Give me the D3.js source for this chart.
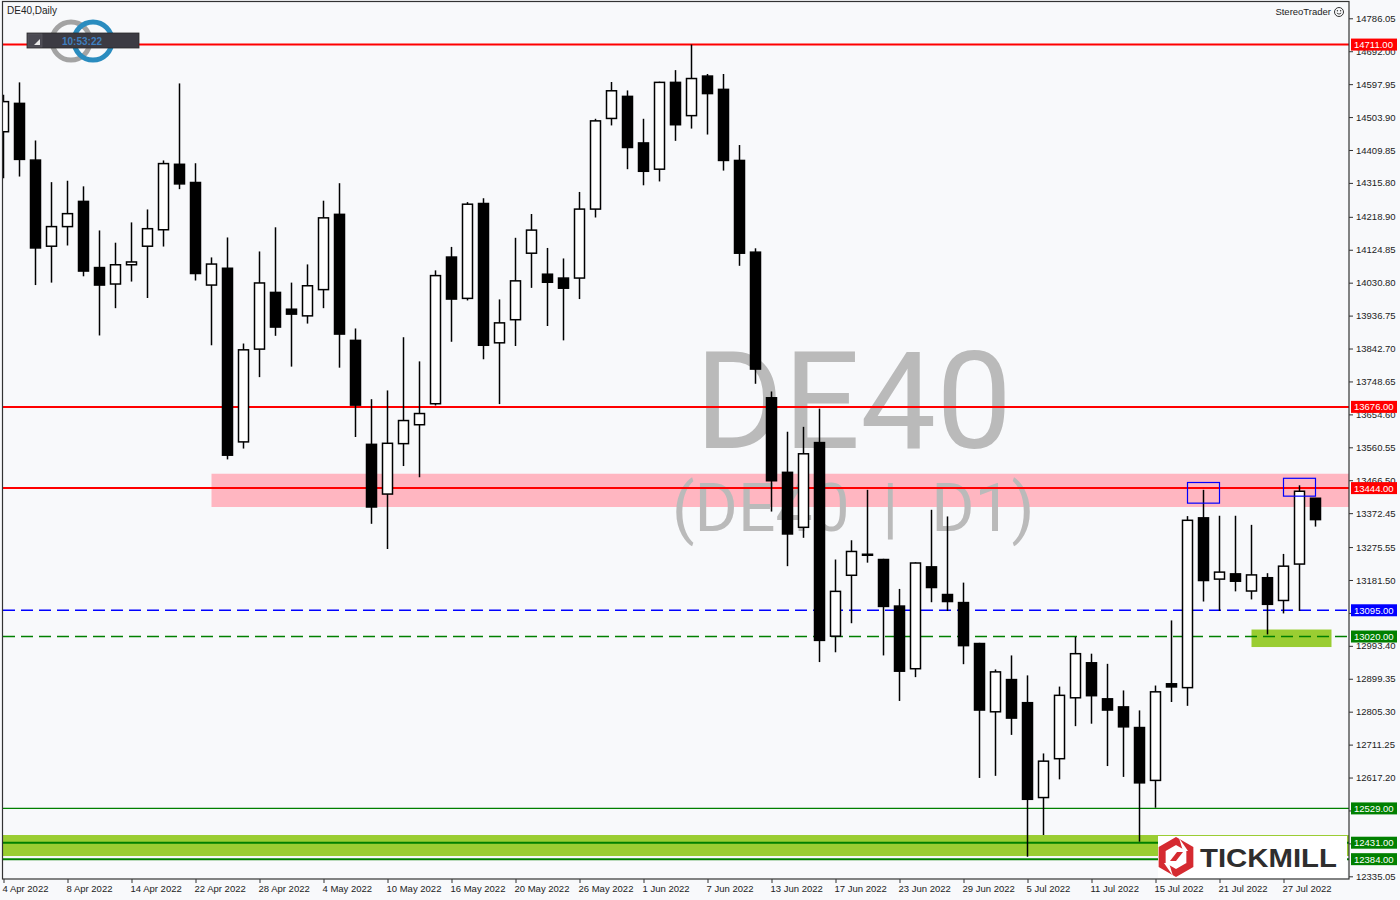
<!DOCTYPE html>
<html><head><meta charset="utf-8">
<script src="https://cdn.jsdelivr.net/npm/d3@7"></script>
<style>
html,body{margin:0;padding:0;background:#f8f9fb;}
svg{display:block;}
</style></head>
<body>
<svg id="chart" width="1400" height="900"></svg>
<script>
// ---------------- DATA ----------------
const dates = [
"2022-04-04","2022-04-05","2022-04-06","2022-04-07","2022-04-08","2022-04-11","2022-04-12","2022-04-13","2022-04-14",
"2022-04-19","2022-04-20","2022-04-21","2022-04-22","2022-04-25","2022-04-26","2022-04-27","2022-04-28","2022-04-29",
"2022-05-02","2022-05-03","2022-05-04","2022-05-05","2022-05-06","2022-05-09","2022-05-10","2022-05-11","2022-05-12",
"2022-05-13","2022-05-16","2022-05-17","2022-05-18","2022-05-19","2022-05-20","2022-05-23","2022-05-24","2022-05-25",
"2022-05-26","2022-05-27","2022-05-30","2022-05-31","2022-06-01","2022-06-02","2022-06-03","2022-06-06","2022-06-07",
"2022-06-08","2022-06-09","2022-06-10","2022-06-13","2022-06-14","2022-06-15","2022-06-16","2022-06-17","2022-06-20",
"2022-06-21","2022-06-22","2022-06-23","2022-06-24","2022-06-27","2022-06-28","2022-06-29","2022-06-30","2022-07-01",
"2022-07-04","2022-07-05","2022-07-06","2022-07-07","2022-07-08","2022-07-11","2022-07-12","2022-07-13","2022-07-14",
"2022-07-15","2022-07-18","2022-07-19","2022-07-20","2022-07-21","2022-07-22","2022-07-25","2022-07-26","2022-07-27",
"2022-07-28","2022-07-29"];

const opens = [14462,14543,14381,14135,14191,14263,14074,14027,14082,14135,14182,14369,14317,14024,14072,13576,13841,14003,
13955,13936,14011,14226,13866,13569,13427,13571,13625,13685,14104,13986,14257,13859,13925,14115,14055,14044,
14044,14241,14500,14563,14430,14355,14603,14508,14621,14583,14380,14118,13702,13489,13332,13574,13021,13195,
13255,13240,13107,12928,13219,13140,13117,13000,12805,12897,12831,12560,12671,12845,12945,12842,12819,12760,
12609,12885,12874,13359,13184,13199,13150,13188,13123,13227,13415];

const highs = [14568,14603,14437,14318,14322,14306,14180,14145,14203,14240,14380,14600,14372,14103,14160,13857,14120,14189,
14031,14083,14265,14315,13900,13698,13723,13875,13806,14066,14133,14261,14272,13983,14159,14227,14130,14100,
14290,14499,14604,14580,14499,14605,14638,14711,14627,14627,14424,14129,13720,13605,13619,13671,13240,13295,
13439,13242,13156,13232,13382,13363,13174,13002,12926,12966,12909,12686,12877,13019,12971,12942,12866,12809,
12880,13066,13364,13439,13365,13365,13339,13201,13256,13452,13416];

const lows = [14329,14334,14024,14031,14137,14049,13880,13958,14034,13987,14134,14298,14037,13852,13526,13557,13761,13879,
13791,13914,13958,13788,13590,13342,13270,13507,13475,13680,13862,13980,13812,13684,13850,14016,13907,13866,
13984,14217,14480,14355,14309,14320,14436,14471,14454,14351,14079,13742,13377,13221,13302,12947,12975,13058,
13231,12966,12836,12904,13118,13093,12941,12616,12622,12739,12391,12453,12612,12764,12771,12650,12619,12434,
12531,12833,12822,13120,13093,13149,13126,13026,13086,13093,13334];

const closes = [14548,14383,14130,14191,14228,14064,14024,14082,14090,14185,14371,14313,14057,14084,13538,13839,14030,13904,
13941,14022,14216,13884,13681,13390,13572,13637,13657,14051,13984,14255,13852,13916,14036,14181,14032,14015,
14241,14493,14579,14417,14349,14603,14482,14614,14571,14380,14115,13784,13465,13313,13542,13009,13149,13263,
13253,13106,12921,13230,13160,13120,12994,12810,12919,12787,12555,12664,12852,12971,12851,12810,12762,12602,
12862,12876,13352,13180,13204,13178,13196,13112,13221,13435,13354];

const yTickValues = [14786.05,14692.00,14597.95,14503.90,14409.85,14315.80,14218.90,14124.85,14030.80,13936.75,13842.70,
13748.65,13654.60,13560.55,13466.50,13372.45,13275.55,13181.50,13087.45,12993.40,12899.35,12805.30,12711.25,
12617.20,12523.15,12429.10,12335.05];

const xTickDates = ["2022-04-04","2022-04-08","2022-04-14","2022-04-22","2022-04-28","2022-05-04","2022-05-10","2022-05-16",
"2022-05-20","2022-05-26","2022-06-01","2022-06-07","2022-06-13","2022-06-17","2022-06-23","2022-06-29","2022-07-05",
"2022-07-11","2022-07-15","2022-07-21","2022-07-27"];
const xTickLabels = ["4 Apr 2022","8 Apr 2022","14 Apr 2022","22 Apr 2022","28 Apr 2022","4 May 2022","10 May 2022",
"16 May 2022","20 May 2022","26 May 2022","1 Jun 2022","7 Jun 2022","13 Jun 2022","17 Jun 2022","23 Jun 2022",
"29 Jun 2022","5 Jul 2022","11 Jul 2022","15 Jul 2022","21 Jul 2022","27 Jul 2022"];

// horizontal levels
const levelPrices = [14711, 13676, 13444, 13095, 13020, 12529, 12431, 12384];
const levelLabels = ["14711.00","13676.00","13444.00","13095.00","13020.00","12529.00","12431.00","12384.00"];
const levelKinds  = ["red","red","red","blueDash","greenDash","green1","green2","green2"];

// zones: [startDate, endDate(or null = edge), priceTop, priceBottom]
const pinkZone = ["2022-04-25", null, 13485, 13390];
const greenZoneSmall = ["2022-07-25", "2022-07-29", 13040, 12990];
const greenZoneBottom = [null, null, 12453, 12393];
const markBoxes = [["2022-07-19","2022-07-21",13460,13401],["2022-07-27","2022-07-29",13472,13421]];

// ---------------- CHART ----------------
const svg = d3.select("#chart");
const L = 3, R = 1349, T = 2, B = 879;
const bg = "#f8f9fb";
svg.append("rect").attr("width",1400).attr("height",900).attr("fill",bg);

const x = d3.scaleBand().domain(dates).range([-4.5, -4.5 + dates.length*16]).padding(0);
const xc = d => x(d) + x.bandwidth()/2;
const y = d3.scaleLinear().domain([12327.35, 14832.6]).range([B, T]);

svg.append("defs").append("clipPath").attr("id","plotclip")
  .append("rect").attr("x",L).attr("y",T).attr("width",R-L).attr("height",B-T);
const g = svg.append("g").attr("clip-path","url(#plotclip)");

// zones
g.append("rect").attr("x", xc(pinkZone[0])).attr("width", R - xc(pinkZone[0]))
  .attr("y", y(pinkZone[2])).attr("height", y(pinkZone[3]) - y(pinkZone[2])).attr("fill","#ffb6c1");
g.append("rect").attr("x", L).attr("width", R-L)
  .attr("y", y(greenZoneBottom[2])).attr("height", y(greenZoneBottom[3]) - y(greenZoneBottom[2])).attr("fill","#9acd32");
g.append("rect").attr("x", xc(greenZoneSmall[0])).attr("width", xc(greenZoneSmall[1]) + 16 - xc(greenZoneSmall[0]))
  .attr("y", y(greenZoneSmall[2])).attr("height", y(greenZoneSmall[3]) - y(greenZoneSmall[2])).attr("fill","#9acd32");

// watermark
g.append("text").attr("x",695).attr("y",448).text("DE40")
  .attr("font-family","Roboto, 'Liberation Sans', sans-serif").attr("font-size",135).attr("fill","#bababa");
g.append("text").attr("x",672).attr("y",531).text("(DE40  |  D1)").style("white-space","pre")
  .attr("font-family","Roboto, 'Liberation Sans', sans-serif").attr("font-size",66).attr("fill","#bababa");

// level lines
const lvlStyle = {
  red:{c:"#ff0000",w:2,d:null}, blueDash:{c:"#0000ff",w:1.5,d:"12,6"}, greenDash:{c:"#008000",w:1.5,d:"12,6"},
  green1:{c:"#008000",w:1.2,d:null}, green2:{c:"#008000",w:2,d:null}
};
levelPrices.forEach((p,i)=>{
  const s = lvlStyle[levelKinds[i]];
  g.append("line").attr("x1",L).attr("x2",R).attr("y1",y(p)).attr("y2",y(p))
    .attr("stroke",s.c).attr("stroke-width",s.w).attr("stroke-dasharray",s.d);
});

// candles
const cg = g.append("g");
dates.forEach((d,i)=>{
  const cx = xc(d), o=opens[i], c=closes[i], h=highs[i], l=lows[i];
  const up = c >= o;
  cg.append("line").attr("x1",cx).attr("x2",cx).attr("y1",y(h)).attr("y2",y(l))
    .attr("stroke","#000").attr("stroke-width",1.5);
  const top = y(Math.max(o,c)), bot = y(Math.min(o,c));
  cg.append("rect").attr("x",cx-5).attr("width",10).attr("y",top).attr("height",Math.max(1,bot-top))
    .attr("fill", up ? "#ffffff" : "#000000").attr("stroke","#000").attr("stroke-width",1.5);
});

// mark boxes
markBoxes.forEach(b=>{
  g.append("rect").attr("x",xc(b[0])).attr("width",xc(b[1])-xc(b[0]))
    .attr("y",y(b[2])).attr("height",y(b[3])-y(b[2])).attr("fill","none").attr("stroke","#0000ff").attr("stroke-width",1.2);
});

// frame
svg.append("rect").attr("x",2.5).attr("y",1.5).attr("width",R-2.5).attr("height",B-1.5)
  .attr("fill","none").attr("stroke","#333").attr("stroke-width",1.2);

// y axis
const fontAx = "'Liberation Sans', Arial, sans-serif";
const yAxis = svg.append("g").attr("transform",`translate(${R},0)`)
  .call(d3.axisRight(y).tickValues(yTickValues).tickFormat(d3.format(".2f")).tickSize(4).tickPadding(3));
yAxis.select(".domain").remove();
yAxis.selectAll("line").attr("stroke","#333");
yAxis.selectAll("text").attr("font-family",fontAx).attr("font-size",9.5).attr("fill","#222");

// x axis
const xa = svg.append("g").attr("transform",`translate(0,${B})`);
const xScaleCenters = d3.scalePoint().domain(dates).range([xc(dates[0]), xc(dates[dates.length-1])]);
xa.call(d3.axisBottom(xScaleCenters).tickValues(xTickDates)
  .tickFormat((d,i)=>xTickLabels[i]).tickSize(4).tickPadding(2));
xa.select(".domain").remove();
xa.selectAll("line").attr("stroke","#333");
xa.selectAll("text").attr("text-anchor","start").attr("dx",-1.5)
  .attr("font-family",fontAx).attr("font-size",9.5).attr("fill","#222");

// price labels on the axis
const lblColor = {red:"#ff0000",blueDash:"#0000ff",greenDash:"#008000",green1:"#008000",green2:"#008000"};
levelPrices.forEach((p,i)=>{
  const yy = y(p);
  svg.append("rect").attr("x",1351).attr("y",yy-6).attr("width",46).attr("height",12).attr("fill",lblColor[levelKinds[i]]);
  svg.append("text").attr("x",1354).attr("y",yy+3.5).text(levelLabels[i])
    .attr("font-family",fontAx).attr("font-size",9.5).attr("fill","#fff");
});

// title
svg.append("text").attr("x",7).attr("y",14).text("DE40,Daily")
  .attr("font-family",fontAx).attr("font-size",10).attr("fill","#222");

// StereoTrader
svg.append("text").attr("x",1331).attr("y",15).attr("text-anchor","end").text("StereoTrader")
  .attr("font-family",fontAx).attr("font-size",9.5).attr("fill","#222");
const sm = svg.append("g").attr("transform","translate(1339,12)");
sm.append("circle").attr("r",4.5).attr("fill","none").attr("stroke","#333").attr("stroke-width",1);
sm.append("circle").attr("cx",-1.6).attr("cy",-1.2).attr("r",0.7).attr("fill","#333");
sm.append("circle").attr("cx",1.6).attr("cy",-1.2).attr("r",0.7).attr("fill","#333");
sm.append("path").attr("d","M-2.2,1 Q0,3.4 2.2,1").attr("fill","none").attr("stroke","#333").attr("stroke-width",0.9);

// clock widget with ring logo
const lg = svg.append("g");
lg.append("circle").attr("cx",71).attr("cy",41).attr("r",19).attr("fill","none").attr("stroke","#a3a3a3").attr("stroke-width",5);
lg.append("circle").attr("cx",93).attr("cy",41).attr("r",19).attr("fill","none").attr("stroke","#2a8cbf").attr("stroke-width",5);
lg.append("rect").attr("x",27).attr("y",33).attr("width",112).attr("height",15).attr("fill","#3c3b43").attr("stroke","#2a2a2a").attr("stroke-width",0.8);
lg.append("rect").attr("x",28).attr("y",34).attr("width",14).attr("height",13).attr("fill","#4a4952").attr("stroke","#5a5a62").attr("stroke-width",0.6);
lg.append("path").attr("d","M40,39 L40,45 L34,45 Z").attr("fill","#e8e8e8");
lg.append("text").attr("x",82).attr("y",44.5).attr("text-anchor","middle").text("10:53:22")
  .attr("font-family",fontAx).attr("font-size",10).attr("font-weight","bold").attr("fill","#3f7fbf");

// Tickmill logo
const tk = svg.append("g");
tk.append("rect").attr("x",1158).attr("y",836).attr("width",189).attr("height",42).attr("fill","#ffffff");
const hx = 1176, hy = 857, hr = 16;
const hexPts = d3.range(6).map(k=>{const a=Math.PI/3*k - Math.PI/2; return [hx+hr*Math.cos(a), hy+hr*Math.sin(a)];});
tk.append("path").attr("d","M"+hexPts.map(p=>p.join(",")).join("L")+"Z")
  .attr("fill","none").attr("stroke","#d52a30").attr("stroke-width",7).attr("stroke-linejoin","miter");
tk.append("path").attr("d",`M${hx+3},${hy-19} L${hx+12},${hy-6} L${hx+7},${hy-6} Z`).attr("fill","#fff");
tk.append("path").attr("d",`M${hx-3},${hy+19} L${hx-12},${hy+6} L${hx-7},${hy+6} Z`).attr("fill","#fff");
tk.append("path").attr("d",`M${hx-6},${hy+4} L${hx+1},${hy-5} L${hx+7},${hy-5} L${hx},${hy+4} Z`).attr("fill","#d52a30");
tk.append("text").attr("x",1200).attr("y",867).text("TICKMILL").attr("textLength",137).attr("lengthAdjust","spacingAndGlyphs")
  .attr("font-family","'Liberation Sans', Arial, sans-serif").attr("font-weight","bold").attr("font-size",26).attr("fill","#2e2e2e");
</script>
</body></html>
